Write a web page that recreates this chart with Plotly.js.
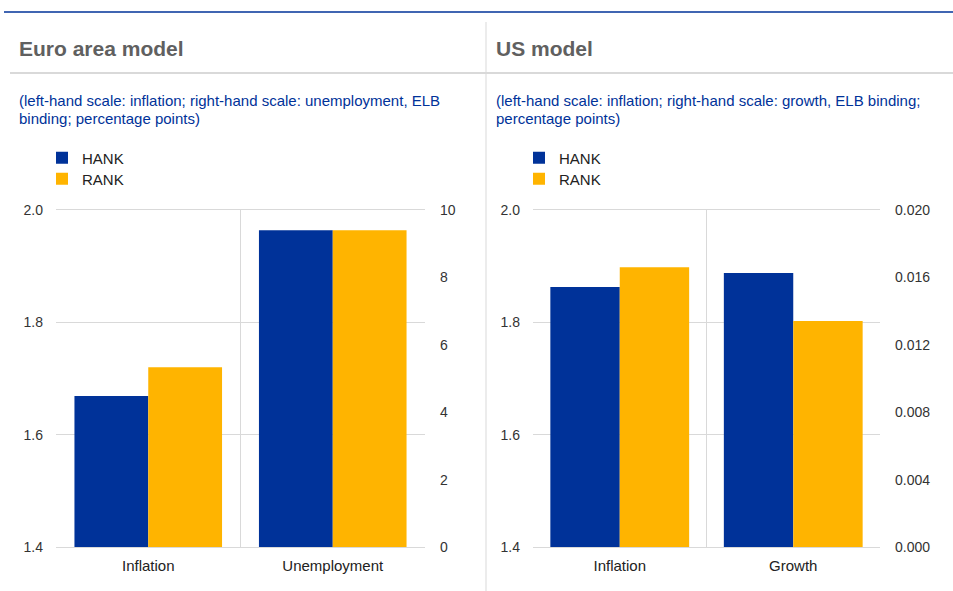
<!DOCTYPE html>
<html>
<head>
<meta charset="utf-8">
<script src="https://cdn.plot.ly/plotly-3.0.1.min.js"></script>
<style>html,body{margin:0;padding:0;background:#fff;}#chart{width:953px;height:591px;}</style>
</head>
<body>
<div id="chart"></div>
<script>
// Data
const seriesNames = ['HANK', 'RANK'];
const euroCategories = ['Inflation', 'Unemployment'];
const euroInflation = [1.669, 1.72];      // left-hand scale
const euroUnemployment = [9.4, 9.4];      // right-hand scale
const usCategories = ['Inflation', 'Growth'];
const usInflation = [1.863, 1.898];       // left-hand scale
const usGrowth = [0.01626, 0.01341];      // right-hand scale
const leftTicks = [1.4, 1.6, 1.8, 2.0];
const euroRightTicks = [0, 2, 4, 6, 8, 10];
const usRightTicks = [0, 0.004, 0.008, 0.012, 0.016, 0.020];

const colors = ['#003299', '#FFB400'];
const FONT = 'Arial, "Liberation Sans", sans-serif';
const W = 953, H = 591;
const px = v => v / W;
const py = v => 1 - v / H;

// one legend per entry so the vertical spacing can match the reference
const euroLegends = ['legend', 'legend3'];
const usLegends = ['legend2', 'legend4'];

const traces = [];
seriesNames.forEach((name, i) => {
  traces.push({type: 'bar', name, x: [euroCategories[0]], y: [euroInflation[i]], xaxis: 'x', yaxis: 'y',
    marker: {color: colors[i]}, legendgroup: name, showlegend: true, legend: euroLegends[i], hoverinfo: 'y'});
  traces.push({type: 'bar', name, x: [euroCategories[1]], y: [euroUnemployment[i]], xaxis: 'x', yaxis: 'y2',
    marker: {color: colors[i]}, legendgroup: name, showlegend: false, hoverinfo: 'y'});
  traces.push({type: 'bar', name, x: [usCategories[0]], y: [usInflation[i]], xaxis: 'x2', yaxis: 'y3',
    marker: {color: colors[i]}, legendgroup: 'us' + name, showlegend: true, legend: usLegends[i], hoverinfo: 'y'});
  traces.push({type: 'bar', name, x: [usCategories[1]], y: [usGrowth[i]], xaxis: 'x2', yaxis: 'y4',
    marker: {color: colors[i]}, legendgroup: 'us' + name, showlegend: false, hoverinfo: 'y'});
});

const grid = '#d9d9d9';
const tickFont = {family: FONT, size: 14, color: '#333333'};
const catFont = {family: FONT, size: 15, color: '#222222'};
const yDom = [44 / H, 381 / H];

function xAx(dom, cats) {
  return {domain: dom, type: 'category', categoryorder: 'array', categoryarray: cats,
    showgrid: false, zeroline: false, showline: true, linecolor: grid, linewidth: 1, mirror: true,
    ticks: '', tickfont: catFont, ticklabelstandoff: 5, fixedrange: true};
}
function yLeft(anchor, ticks) {
  return {domain: yDom, anchor, range: [1.4, 2.0], tickvals: ticks, tickformat: '.1f',
    showgrid: true, gridcolor: grid, gridwidth: 1, zeroline: false, showline: false,
    ticks: '', tickfont: tickFont, ticklabelstandoff: 12, fixedrange: true};
}
function yRight(anchor, overlay, ticks, range, fmt) {
  return {domain: yDom, anchor, overlaying: overlay, side: 'right', range, tickvals: ticks, tickformat: fmt,
    showgrid: false, zeroline: false, showline: false, ticks: '', tickfont: tickFont,
    ticklabelstandoff: 14, fixedrange: true};
}

const lines = [
  {type: 'line', xref: 'paper', yref: 'paper', x0: px(4), x1: 1, y0: py(12), y1: py(12), line: {color: '#003299', width: 1.5}},
  {type: 'line', xref: 'paper', yref: 'paper', x0: px(10), x1: 1, y0: py(73), y1: py(73), line: {color: '#d9d9d9', width: 2}},
  {type: 'line', xref: 'paper', yref: 'paper', x0: px(486), x1: px(486), y0: py(22), y1: 0, line: {color: '#d9d9d9', width: 1}},
  {type: 'line', xref: 'x', yref: 'paper', x0: 0.5, x1: 0.5, y0: yDom[0], y1: yDom[1], line: {color: grid, width: 1}},
  {type: 'line', xref: 'x2', yref: 'paper', x0: 0.5, x1: 0.5, y0: yDom[0], y1: yDom[1], line: {color: grid, width: 1}}
];

const titleFont = {family: FONT, size: 21, color: '#606060'};
const subFont = {family: FONT, size: 15, color: '#003299'};
function note(text, x, y, font) {
  return {text, x: px(x), y: py(y), xref: 'paper', yref: 'paper', xanchor: 'left', yanchor: 'middle',
    align: 'left', showarrow: false, font};
}
const ann = [
  note('<b>Euro area model</b>', 17, 49, titleFont),
  note('<b>US model</b>', 494, 49, titleFont),
  note('(left-hand scale: inflation; right-hand scale: unemployment, ELB', 17, 100, subFont),
  note('binding; percentage points)', 17, 119, subFont),
  note('(left-hand scale: inflation; right-hand scale: growth, ELB binding;', 494, 100, subFont),
  note('percentage points)', 494, 119, subFont)
];

const legendBase = {orientation: 'v', bgcolor: 'rgba(0,0,0,0)', borderwidth: 0, yanchor: 'middle', xanchor: 'left',
  font: {family: FONT, size: 15, color: '#222222'}, tracegroupgap: 0, itemclick: false, itemdoubleclick: false};

const layout = {
  width: W, height: H, margin: {l: 0, r: 0, t: 0, b: 0},
  paper_bgcolor: '#ffffff', plot_bgcolor: '#ffffff',
  barmode: 'group', bargap: 0.2, bargroupgap: 0,
  font: {family: FONT},
  xaxis: xAx([px(56), px(425)], euroCategories),
  yaxis: yLeft('x', leftTicks),
  yaxis2: yRight('x', 'y', euroRightTicks, [0, 10], 'd'),
  xaxis2: xAx([px(533), px(880)], usCategories),
  yaxis3: yLeft('x2', leftTicks),
  yaxis4: yRight('x2', 'y3', usRightTicks, [0, 0.020], '.3f'),
  legend: Object.assign({}, legendBase, {x: px(42), y: py(158)}),
  legend3: Object.assign({}, legendBase, {x: px(42), y: py(179)}),
  legend2: Object.assign({}, legendBase, {x: px(519), y: py(158)}),
  legend4: Object.assign({}, legendBase, {x: px(519), y: py(179)}),
  shapes: lines,
  annotations: ann,
  showlegend: true
};

Plotly.newPlot('chart', traces, layout, {displayModeBar: false, staticPlot: true});
</script>
</body>
</html>
